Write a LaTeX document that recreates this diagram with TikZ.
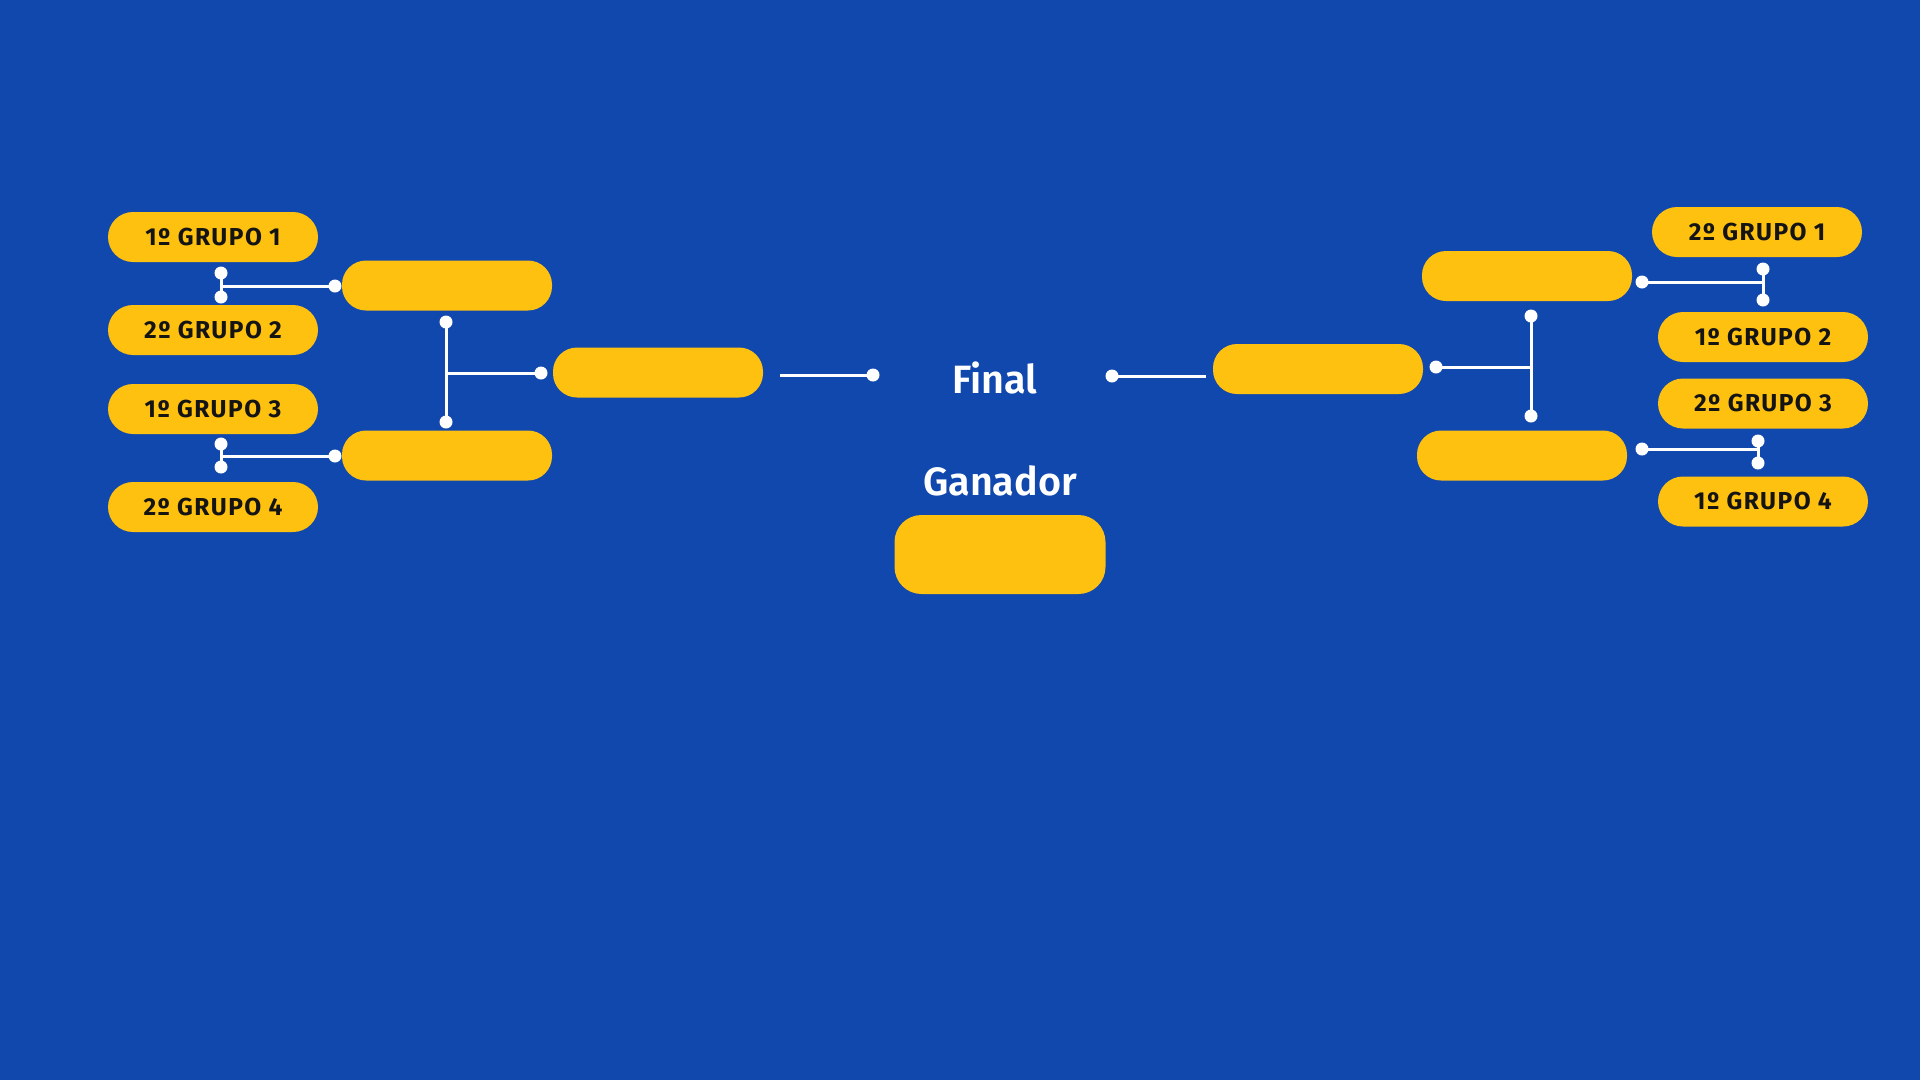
\documentclass[tikz,border=0pt]{standalone}
\usepackage{fontspec}
\setmainfont{Fira Sans}
\newfontfamily\grpfont{Fira Sans}[LetterSpace=6]
\newfontfamily\ttlfont{Fira Sans SemiBold}
\definecolor{bg}{HTML}{1048AD}
\definecolor{yel}{HTML}{FEC10F}
\definecolor{ink}{HTML}{141414}
\begin{document}
\begin{tikzpicture}[x=1pt,y=-1pt,
  grp/.style={fill=yel, rounded corners=25pt, minimum width=210pt, minimum height=50pt, inner sep=0pt,
    text=ink, font=\grpfont\bfseries\fontsize{24.5}{28}\selectfont},
  slot/.style={fill=yel, rounded corners=24pt, minimum width=210pt, minimum height=50pt, inner sep=0pt},
  dot/.style={circle, fill=white, minimum size=13pt, inner sep=0pt},
  link/.style={draw=white, line width=3pt},
  ttl/.style={text=white, font=\ttlfont\fontsize{39.5}{46}\selectfont, inner sep=0pt}]
\useasboundingbox (0,0) rectangle (1920,1080);
\fill[bg] (0,0) rectangle (1920,1080);

% left groups
\node[grp] (g1) at (213,237) {1º GRUPO 1};
\node[grp] (g2) at (213,330) {2º GRUPO 2};
\node[grp] (g3) at (213,409) {1º GRUPO 3};
\node[grp] (g4) at (213,507) {2º GRUPO 4};
% left round 2
\node[slot] (l2a) at (447,285.5) {};
\node[slot] (l2b) at (447,455.5) {};
% left round 3
\node[slot] (l3) at (658,372.5) {};
% center
\node[ttl] (fin) at (995,378) {Final};
\node[ttl] (gan) at (1000,481) {Ganador};
\node[slot, minimum width=211pt, minimum height=79pt, rounded corners=27pt] (win) at (1000,554.5) {};
% right round 3
\node[slot] (r3) at (1318,369) {};
% right round 2
\node[slot] (r2a) at (1527,276) {};
\node[slot] (r2b) at (1522,455.5) {};
% right groups
\node[grp] (h1) at (1757,232) {2º GRUPO 1};
\node[grp] (h2) at (1763,337) {1º GRUPO 2};
\node[grp] (h3) at (1763,403.5) {2º GRUPO 3};
\node[grp] (h4) at (1763,501.5) {1º GRUPO 4};

% left connectors
\node[dot] (a1) at (221,273) {};
\node[dot] (a2) at (221,297) {};
\coordinate (aj) at (221,286);
\node[dot] (a3) at (335,286) {};
\draw[link] (a1.center) -- (a2.center);
\draw[link] (aj) -- (a3.center);

\node[dot] (b1) at (221,444) {};
\node[dot] (b2) at (221,467) {};
\coordinate (bj) at (221,456);
\node[dot] (b3) at (335,456) {};
\draw[link] (b1.center) -- (b2.center);
\draw[link] (bj) -- (b3.center);

\node[dot] (c1) at (446,322) {};
\node[dot] (c2) at (446,422) {};
\coordinate (cj) at (446,373);
\node[dot] (c3) at (541,373) {};
\draw[link] (c1.center) -- (c2.center);
\draw[link] (cj) -- (c3.center);

\coordinate (m1) at (780,375);
\node[dot] (m2) at (873,375) {};
\draw[link] (m1) -- (m2.center);

% right connectors
\node[dot] (n1) at (1112,376) {};
\coordinate (n2) at (1206,376);
\draw[link] (n1.center) -- (n2);

\node[dot] (p1) at (1531,316) {};
\node[dot] (p2) at (1531,416) {};
\coordinate (pj) at (1531,367);
\node[dot] (p3) at (1436,367) {};
\draw[link] (p1.center) -- (p2.center);
\draw[link] (pj) -- (p3.center);

\node[dot] (q1) at (1763,269) {};
\node[dot] (q2) at (1763,300) {};
\coordinate (qj) at (1763,282);
\node[dot] (q3) at (1642,282) {};
\draw[link] (q1.center) -- (q2.center);
\draw[link] (qj) -- (q3.center);

\node[dot] (s1) at (1758,441) {};
\node[dot] (s2) at (1758,463) {};
\coordinate (sj) at (1758,449);
\node[dot] (s3) at (1642,449) {};
\draw[link] (s1.center) -- (s2.center);
\draw[link] (sj) -- (s3.center);
\end{tikzpicture}
\end{document}
